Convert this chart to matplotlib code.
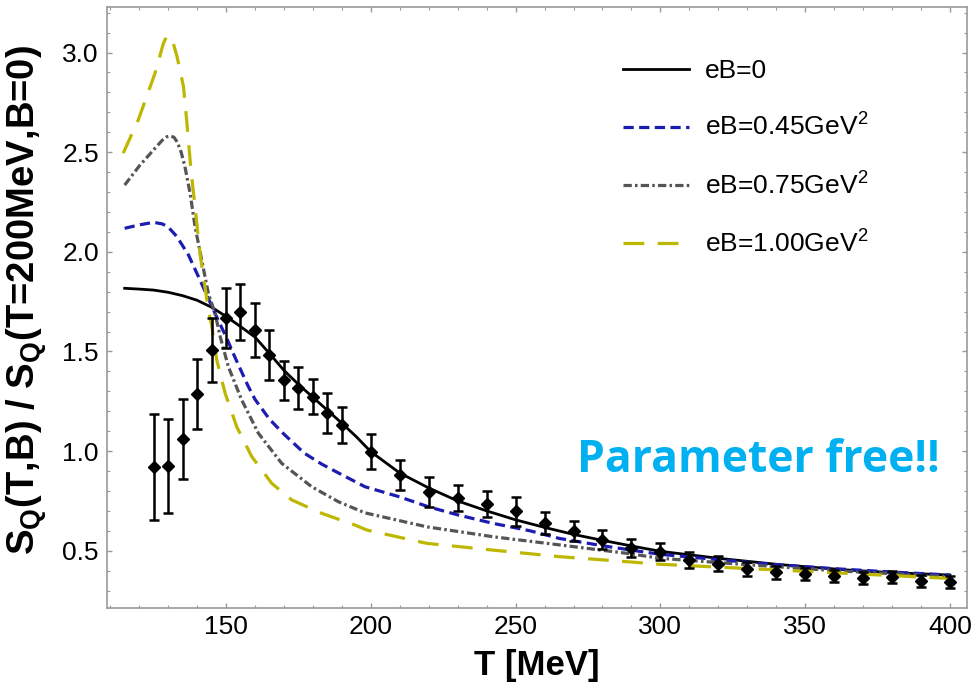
import matplotlib
matplotlib.use("Agg")
import matplotlib.pyplot as plt
from matplotlib.ticker import MultipleLocator

plt.rcParams["font.family"] = ["Liberation Sans", "DejaVu Sans"]
plt.rcParams["mathtext.fontset"] = "custom"
plt.rcParams["mathtext.rm"] = "Liberation Sans"
plt.rcParams["mathtext.bf"] = "Liberation Sans:bold"
plt.rcParams["mathtext.it"] = "Liberation Sans:italic"

# lattice points
t_data = [125, 130, 135, 140, 145, 150, 155, 160, 165, 170, 175, 180, 185, 190,
          200, 210, 220, 230, 240, 250, 260, 270, 280, 290, 300, 310, 320, 330,
          340, 350, 360, 370, 380, 390, 400]
s_data = [0.92, 0.925, 1.06, 1.285, 1.508, 1.667, 1.70, 1.606, 1.482, 1.355,
          1.315, 1.273, 1.19, 1.131, 0.997, 0.88, 0.795, 0.765, 0.734, 0.697,
          0.637, 0.60, 0.555, 0.515, 0.494, 0.455, 0.435, 0.408, 0.392, 0.384,
          0.372, 0.363, 0.367, 0.347, 0.342]
s_err = [0.265, 0.235, 0.2, 0.175, 0.16, 0.15, 0.14, 0.135, 0.125, 0.098,
         0.105, 0.088, 0.1, 0.092, 0.087, 0.075, 0.075, 0.065, 0.065, 0.072,
         0.055, 0.05, 0.048, 0.045, 0.043, 0.04, 0.037, 0.035, 0.032, 0.03,
         0.03, 0.03, 0.03, 0.03, 0.03]

# model curves
t_b0 = [115, 120, 125, 130, 135, 140, 145, 150, 155, 160, 165, 170, 175, 180,
        185, 190, 195, 200, 210, 220, 230, 240, 250, 260, 270, 280, 290, 300,
        320, 340, 350, 365, 380, 400]
s_b0 = [1.817, 1.813, 1.808, 1.797, 1.78, 1.757, 1.722, 1.676, 1.625, 1.572,
        1.49, 1.405, 1.335, 1.27, 1.205, 1.14, 1.072, 0.997, 0.89, 0.815,
        0.75, 0.70, 0.655, 0.617, 0.582, 0.552, 0.524, 0.497, 0.462, 0.432,
        0.42, 0.403, 0.39, 0.378]

t_b045 = [115, 120, 125, 128, 130, 133, 137, 141, 145, 147.5, 150, 152.5, 155,
          157.5, 160, 165, 170, 177, 183, 189, 198, 210, 220, 230, 242, 255,
          265, 280, 290, 300, 320, 340, 360, 380, 400]
s_b045 = [2.118, 2.135, 2.148, 2.14, 2.125, 2.077, 1.985, 1.859, 1.73, 1.65,
          1.575, 1.49, 1.41, 1.33, 1.26, 1.16, 1.085, 0.99, 0.935, 0.889,
          0.821, 0.77, 0.72, 0.68, 0.638, 0.60, 0.562, 0.525, 0.503, 0.482,
          0.455, 0.43, 0.41, 0.393, 0.378]

t_b075 = [115, 120, 125.5, 128, 129.5, 130.7, 132, 133.2, 134.5, 135.8, 137.6,
          139.3, 141.6, 143.9, 146.2, 148, 150.8, 155.4, 161.2, 169.2, 179.6,
          188.8, 198, 219.3, 242.3, 265.3, 288.4, 300, 330, 360, 400]
s_b075 = [2.335, 2.43, 2.52, 2.56, 2.577, 2.582, 2.575, 2.55, 2.5, 2.428,
          2.294, 2.127, 1.959, 1.792, 1.692, 1.574, 1.424, 1.257, 1.089, 0.939,
          0.821, 0.746, 0.69, 0.62, 0.57, 0.529, 0.487, 0.462, 0.43, 0.40,
          0.37]

t_b100 = [114.5, 119.7, 125.5, 128.4, 129.3, 130, 130.8, 131.8, 133, 135.3,
          136.4, 137.9, 139.3, 141, 142.7, 143.8, 145.1, 146.8, 149.7, 153.7,
          158.9, 165.8, 172.7, 183, 194.5, 198.6, 219.3, 242.3, 265.3, 288.4,
          300, 400]
s_b100 = [2.495, 2.662, 2.897, 3.047, 3.075, 3.085, 3.078, 3.045, 2.985, 2.83,
          2.662, 2.41, 2.227, 1.993, 1.825, 1.72, 1.625, 1.457, 1.29, 1.122,
          0.972, 0.838, 0.755, 0.688, 0.629, 0.604, 0.537, 0.503, 0.47, 0.445,
          0.432, 0.361]

labels = ["eB=0", r"eB=0.45GeV$^2$", r"eB=0.75GeV$^2$", r"eB=1.00GeV$^2$"]

fig = plt.figure(figsize=(9.78, 6.93), dpi=100)
ax = fig.add_axes([0.1097, 0.1222, 0.8788, 0.8681])

ax.plot(t_b0, s_b0, color="black", lw=2.0, label=labels[0])
ax.plot(t_b045, s_b045, color="#1c1cb0", lw=2.3, linestyle=(0, (3.2, 1.7)),
        label=labels[1])
ax.plot(t_b075, s_b075, color="#555555", lw=2.3,
        linestyle=(0, (2.6, 1.0, 0.8, 1.0)), label=labels[2])
ax.plot(t_b100, s_b100, color="#bdb700", lw=2.3, linestyle=(0, (6.5, 4.2)),
        label=labels[3])

ax.errorbar(t_data, s_data, yerr=s_err, fmt="D", color="black", ms=6.5,
            elinewidth=1.8, capsize=3.8, capthick=1.8, zorder=5)

ax.set_xlim(109, 405.8)
ax.set_ylim(0.211, 3.23)
ax.xaxis.set_major_locator(MultipleLocator(50))
ax.xaxis.set_minor_locator(MultipleLocator(10))
ax.yaxis.set_major_locator(MultipleLocator(0.5))
ax.yaxis.set_minor_locator(MultipleLocator(0.1))
ax.tick_params(which="both", direction="in", top=True, right=True,
               color="#999999", labelsize=19)
ax.tick_params(which="major", length=3.5, width=1.0)
ax.tick_params(which="minor", length=2.0, width=0.8)
ax.tick_params(axis="x", pad=5)
ax.tick_params(axis="y", pad=6)
for sp in ax.spines.values():
    sp.set_color("#999999")
    sp.set_linewidth(1.2)

ax.set_xlabel("T [MeV]", fontsize=25, fontweight="bold", labelpad=7)
ax.set_ylabel(r"S$_\mathbf{Q}$(T,B) / S$_\mathbf{Q}$(T=200MeV,B=0)",
              fontsize=27.5, fontweight="bold")
ax.yaxis.set_label_coords(-0.068, 0.5125)

ax.legend(loc="upper left", bbox_to_anchor=(623 / 978, 1 - 59 / 693),
          bbox_transform=fig.transFigure, frameon=False, fontsize=19,
          borderpad=0, borderaxespad=0, handlelength=2.5, handletextpad=0.6,
          labelspacing=1.17)

fig.text(577 / 978, 1 - 471.7 / 693, "Parameter free!!", color="#00b0f0",
         fontsize=32, fontweight="bold", family=["Open Sans", "DejaVu Sans"],
         va="baseline", ha="left")

fig.savefig("out.png", dpi=100)
